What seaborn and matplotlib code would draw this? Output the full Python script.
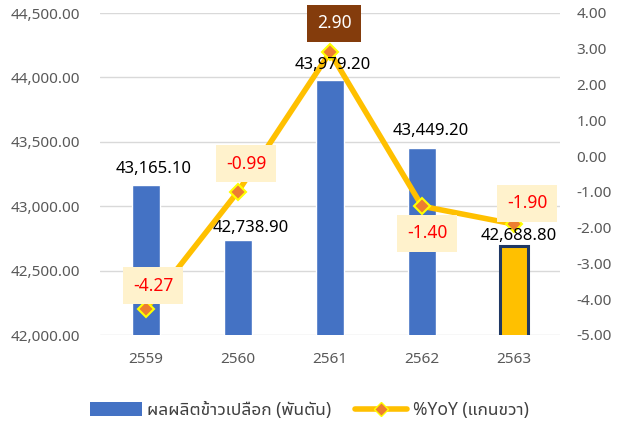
import matplotlib
matplotlib.use("Agg")
import matplotlib.pyplot as plt
from matplotlib.patches import Patch
from matplotlib.lines import Line2D
from matplotlib.ticker import FuncFormatter, MultipleLocator
import numpy as np
import seaborn as sns

# ---- data ----
years = ["2559", "2560", "2561", "2562", "2563"]
production = [43165.10, 42738.90, 43979.20, 43449.20, 42688.80]
yoy = [-4.27, -0.99, 2.90, -1.40, -1.90]
bar_label = "ผลผลิตข้าวเปลือก (พันตัน)"
line_label = "%YoY (แกนขวา)"

sns.set_theme(style="white")
FAM = ["Noto Sans", "Noto Sans Thai UI", "DejaVu Sans"]
plt.rcParams["font.family"] = FAM

BLUE = "#4472C4"
GOLD = "#FFC000"
GRAY = "#595959"

fig = plt.figure(figsize=(6.18, 4.21), dpi=100)
ax = fig.add_axes([100/618, 1-335/421, 460/618, 322/421])

colors = [BLUE] * (len(years) - 1) + [GOLD]
sns.barplot(x=years, y=production, hue=years, palette=colors, legend=False,
            width=0.31, ax=ax, saturation=1)
last = ax.patches[len(years) - 1]
last.set_edgecolor("#1F3864")
last.set_linewidth(2.2)

ax.set_ylim(42000, 44500)
ax.yaxis.set_major_locator(MultipleLocator(500))
ax.yaxis.set_major_formatter(FuncFormatter(lambda v, p: f"{v:,.2f}"))
ax.grid(axis="y", color="#D9D9D9", linewidth=1)
ax.set_axisbelow(True)
for s in ax.spines.values():
    s.set_visible(False)
ax.tick_params(axis="y", length=0, pad=14, labelsize=11, labelcolor=GRAY)
ax.tick_params(axis="x", length=0, pad=12, labelsize=11, labelcolor=GRAY)
ax.set_xlim(-0.5, len(years) - 0.5)

ax2 = ax.twinx()
xpos = np.arange(len(years))
sns.lineplot(x=xpos, y=yoy, ax=ax2, color=GOLD, linewidth=4, marker="D",
             markersize=8, markerfacecolor="#ED7D31", markeredgecolor="#FFFF00",
             markeredgewidth=1.5)
ax2.set_ylim(-5, 4)
ax2.yaxis.set_major_locator(MultipleLocator(1))
ax2.yaxis.set_major_formatter(FuncFormatter(lambda v, p: f"{v:.2f}"))
for s in ax2.spines.values():
    s.set_visible(False)
ax2.tick_params(axis="y", length=0, pad=12, labelsize=11, labelcolor=GRAY)
ax2.set_xlim(-0.5, len(years) - 0.5)

px = 72 / 100
# bar value labels (drawn on top of everything)
bar_offsets = [(8, 16), (13, 12), (3, 15.5), (9, 17), (5, 10)]
for i, v in enumerate(production):
    dx, dy = bar_offsets[i]
    ax2.annotate(f"{v:,.2f}", xy=(i, v), xycoords=ax.transData,
                 xytext=(dx * px, dy * px), textcoords="offset points",
                 ha="center", va="center", fontsize=12, color="black", zorder=10)

# yoy labels
offsets = [(7, 23), (8, 28), (4, 29), (5, -27), (13, 21)]
for i, v in enumerate(yoy):
    dx, dy = offsets[i]
    hi = v == max(yoy)
    ax2.annotate(f"{v:.2f}", xy=(i, v), xytext=(dx * px, dy * px),
                 textcoords="offset points", ha="center", va="center",
                 fontsize=12.5, color="white" if hi else "#FF0000", zorder=11,
                 bbox=dict(boxstyle="square,pad=0.55",
                           fc="#843C0C" if hi else "#FFF2CC", ec="none"))

handles = [Patch(facecolor=BLUE, edgecolor="none"),
           Line2D([0], [0], color=GOLD, linewidth=4, marker="D", markersize=7,
                  markerfacecolor="#ED7D31", markeredgecolor="#FFFF00")]
fig.legend(handles, [bar_label, line_label], loc="center", ncol=2,
           bbox_to_anchor=(0.5, 1 - 410/421), frameon=False, fontsize=12.5,
           handlelength=3.0, handleheight=0.8, columnspacing=1.4,
           handletextpad=0.3, labelcolor="#404040")

fig.savefig("out.png", dpi=100)
